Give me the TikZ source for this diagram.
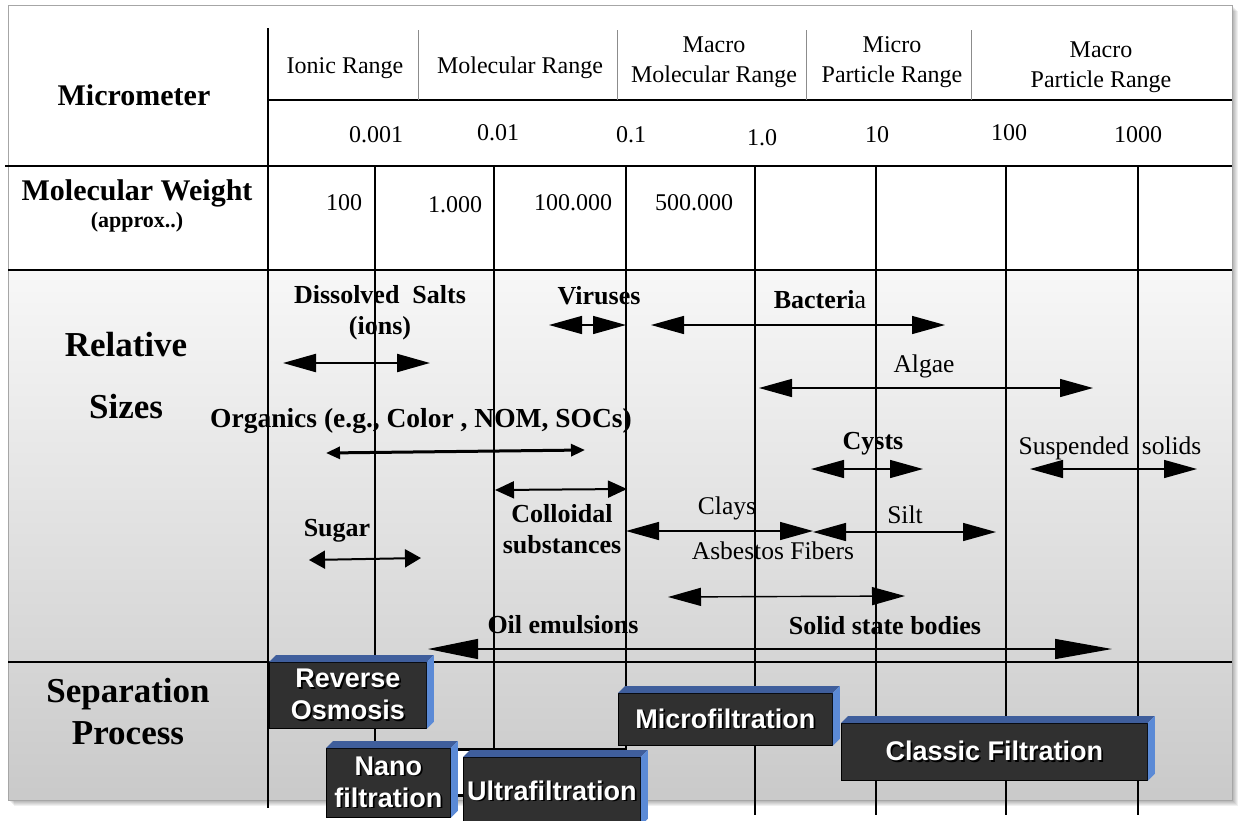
\documentclass[tikz,border=0pt]{standalone}
\usepackage{fontspec}
\usepackage{graphicx}
\setmainfont{Liberation Serif}
\newfontfamily\boxfont{Liberation Sans}
\usetikzlibrary{arrows.meta}
\definecolor{topblue}{HTML}{3F5E9C}
\definecolor{sideblue}{HTML}{5B8AD6}
\definecolor{faceg}{HTML}{303030}
% white label with a dark drop shadow
\newcommand\shtxt[1]{\rlap{\kern1.8pt\raisebox{-1.8pt}{\textcolor{black}{#1}}}#1}
\tikzset{
  tipA/.tip={Triangle[length=33pt,width=18pt]},
  tipS/.tip={Triangle[length=14pt,width=12pt]},
  tipC/.tip={Triangle[length=19pt,width=17pt]},
  tipG/.tip={Triangle[length=16pt,width=18pt]},
  tipL/.tip={Triangle[length=50pt,width=20pt]},
  tipR/.tip={Triangle[length=57pt,width=20pt]},
}
\begin{document}
\begin{tikzpicture}[x=1pt,y=-1pt,
  lbl/.style={inner sep=0pt, font=\fontsize{24}{30}\selectfont, align=center},
  slbl/.style={inner sep=0pt, font=\fontsize{25.5}{30}\selectfont, align=center},
  blbl/.style={inner sep=0pt, font=\bfseries\fontsize{26}{31}\selectfont, align=center},
  head/.style={inner sep=0pt, font=\bfseries\fontsize{35}{39}\selectfont, align=center},
  rulel/.style={line width=2pt, black},
  gridl/.style={line width=1.5pt, black},
  sepl/.style={line width=1pt, black!45},
  rng/.style={line width=1.4pt, tipA-tipA},
  face/.style={fill=faceg, draw=black, line width=0.8pt, inner sep=0pt, text=white,
    font=\boxfont\bfseries\fontsize{27}{32}\selectfont, align=center},
]
\useasboundingbox (0,0) rectangle (1240,820);

% frame with soft drop shadow
\foreach \k in {1,...,6}
  \fill[black, opacity=0.06] (8+\k,5+\k) rectangle (1232+\k,800+\k);
\fill[white] (8,5) rectangle (1232,800);
\shade[top color=black!3, bottom color=black!21] (8,270) rectangle (1232,800);
\draw[black!35, line width=1pt] (8,5) rectangle (1232,800);

% table rules
\draw[rulel] (5,166) -- (1232,166);
\draw[rulel] (8,270) -- (1232,270);
\draw[rulel] (8,662) -- (1232,662);
\draw[rulel] (268,100) -- (1232,100);
\draw[gridl] (268,28) -- (268,808);
\foreach \x in {418,617,806,971}
  \draw[sepl] (\x,30) -- (\x,100);
\foreach \x in {375,494,626,755,876,1006,1138}
  \draw[gridl] (\x,166) -- (\x,815);

% row headings
\node[inner sep=0pt, font=\bfseries\fontsize{30}{34}\selectfont] (hmic) at (134,95) {Micrometer};
\node[inner sep=0pt, font=\bfseries\fontsize{30}{34}\selectfont] (hmw) at (137,193) {Molecular Weight};
\node[inner sep=0pt, font=\bfseries\fontsize{22}{26}\selectfont] (hmwa) at (137,222) {(approx..)};
\node[head] (hrel) at (126,345) {Relative};
\node[head] (hsiz) at (126,407) {Sizes};
\node[head] (hsep) at (128,694) {Separation};
\node[head] (hpro) at (128,733) {Process};

% size ranges
\node[lbl] (rion) at (345,68) {Ionic Range};
\node[lbl] (rmol) at (520,68) {Molecular Range};
\node[lbl] (rmac) at (714,62) {Macro\\Molecular Range};
\node[lbl] (rmic) at (892,62) {Micro\\Particle Range};
\node[lbl] (rmpr) at (1101,67) {Macro\\Particle Range};

% micrometer scale
\node[lbl] (m1) at (376,135) {0.001};
\node[lbl] (m2) at (498,133) {0.01};
\node[lbl] (m3) at (631,135) {0.1};
\node[lbl] (m4) at (762,138) {1.0};
\node[lbl] (m5) at (877,135) {10};
\node[lbl] (m6) at (1009,133) {100};
\node[lbl] (m7) at (1138,135) {1000};

% molecular weight scale
\node[lbl] (w1) at (344,203) {100};
\node[lbl] (w2) at (455,205) {1.000};
\node[lbl] (w3) at (573,203) {100.000};
\node[lbl] (w4) at (694,203) {500.000};

% relative size labels
\node[blbl] (tds) at (380,313) {Dissolved\ \ Salts\\(ions)};
\node[blbl] (tvi) at (599,296) {Viruses};
\node[blbl] (tba) at (820,300) {Bacteri{\mdseries a}};
\node[slbl] (tal) at (924,366) {Algae};
\node[blbl, font=\bfseries\fontsize{27.5}{31}\selectfont] (tor) at (421,421) {Organics (e.g., Color , NOM, SOCs)};
\node[blbl] (tcy) at (873,444) {Cysts};
\node[slbl] (tss) at (1110,448) {Suspended\ \ solids};
\node[blbl] (tco) at (562,529) {Colloidal\\substances};
\node[blbl] (tsu) at (337,531) {Sugar};
\node[slbl] (tcl) at (727,508) {Clays};
\node[slbl] (tsi) at (905,515) {Silt};
\node[slbl] (tas) at (773,551) {Asbestos Fibers};
\node[blbl] (toi) at (563,625) {Oil emulsions};
\node[blbl] (tso) at (885,626) {Solid state bodies};

% range end points
\coordinate (dsA) at (283,363);  \coordinate (dsB) at (430,363);
\coordinate (viA) at (549,325);  \coordinate (viB) at (626,325);
\coordinate (baA) at (651,325);  \coordinate (baB) at (945,325);
\coordinate (alA) at (759,388);  \coordinate (alB) at (1093,388);
\coordinate (orA) at (326,453);  \coordinate (orB) at (585,450);
\coordinate (cyA) at (811,469);  \coordinate (cyB) at (923,469);
\coordinate (ssA) at (1030,469); \coordinate (ssB) at (1197,469);
\coordinate (coA) at (495,490);  \coordinate (coB) at (627,489);
\coordinate (suA) at (309,560);  \coordinate (suB) at (421,558);
\coordinate (clA) at (626,531);  \coordinate (clB) at (813,531);
\coordinate (siA) at (813,532);  \coordinate (siB) at (996,532);
\coordinate (asA) at (668,597);  \coordinate (asB) at (905,596);
\coordinate (oiA) at (428,649);  \coordinate (oiB) at (1112,649);

% range arrows
\draw[rng, line width=2.2pt] (dsA) -- (dsB);
\draw[rng] (viA) -- (viB);
\draw[rng] (baA) -- (baB);
\draw[rng] (alA) -- (alB);
\draw[line width=3pt, tipS-tipS] (orA) -- (orB);
\draw[rng] (cyA) -- (cyB);
\draw[rng] (ssA) -- (ssB);
\draw[line width=2pt, tipC-tipC] (coA) -- (coB);
\draw[line width=2pt, tipG-tipG] (suA) -- (suB);
\draw[rng] (clA) -- (clB);
\draw[rng] (siA) -- (siB);
\draw[rng] (asA) -- (asB);
\draw[line width=1.4pt, tipL-tipR] (oiA) -- (oiB);

% separation processes
\node[draw=black, line width=2.5pt, fill=white, minimum width=178pt, minimum height=46pt,
      anchor=north west, inner sep=0pt] (back) at (445,748) {};

\node[face, minimum width=157pt, minimum height=66pt, anchor=north west] (ro) at (269,662)
  {\shtxt{Reverse}\\\shtxt{Osmosis}};
\fill[topblue] (ro.north west) -- ++(7,-7) -- ([shift={(7,-7)}]ro.north east) -- (ro.north east) -- cycle;
\fill[sideblue] (ro.north east) -- ++(7,-7) -- ([shift={(7,-7)}]ro.south east) -- (ro.south east) -- cycle;

\node[face, minimum width=124pt, minimum height=69pt, anchor=north west] (nf) at (326,748)
  {\shtxt{Nano}\\\shtxt{filtration}};
\fill[topblue] (nf.north west) -- ++(7,-7) -- ([shift={(7,-7)}]nf.north east) -- (nf.north east) -- cycle;
\fill[sideblue] (nf.north east) -- ++(7,-7) -- ([shift={(7,-7)}]nf.south east) -- (nf.south east) -- cycle;

\node[face, minimum width=177pt, minimum height=68pt, anchor=north west] (uf) at (463,757)
  {\shtxt{Ultrafiltration}};
\fill[topblue] (uf.north west) -- ++(7,-7) -- ([shift={(7,-7)}]uf.north east) -- (uf.north east) -- cycle;
\fill[sideblue] (uf.north east) -- ++(7,-7) -- ([shift={(7,-7)}]uf.south east) -- (uf.south east) -- cycle;

\node[face, minimum width=214pt, minimum height=52pt, anchor=north west] (mf) at (618,693)
  {\shtxt{Microfiltration}};
\fill[topblue] (mf.north west) -- ++(7,-7) -- ([shift={(7,-7)}]mf.north east) -- (mf.north east) -- cycle;
\fill[sideblue] (mf.north east) -- ++(7,-7) -- ([shift={(7,-7)}]mf.south east) -- (mf.south east) -- cycle;

\node[face, minimum width=306pt, minimum height=57pt, anchor=north west] (cf) at (841,723)
  {\shtxt{Classic Filtration}};
\fill[topblue] (cf.north west) -- ++(7,-7) -- ([shift={(7,-7)}]cf.north east) -- (cf.north east) -- cycle;
\fill[sideblue] (cf.north east) -- ++(7,-7) -- ([shift={(7,-7)}]cf.south east) -- (cf.south east) -- cycle;

\end{tikzpicture}
\end{document}
